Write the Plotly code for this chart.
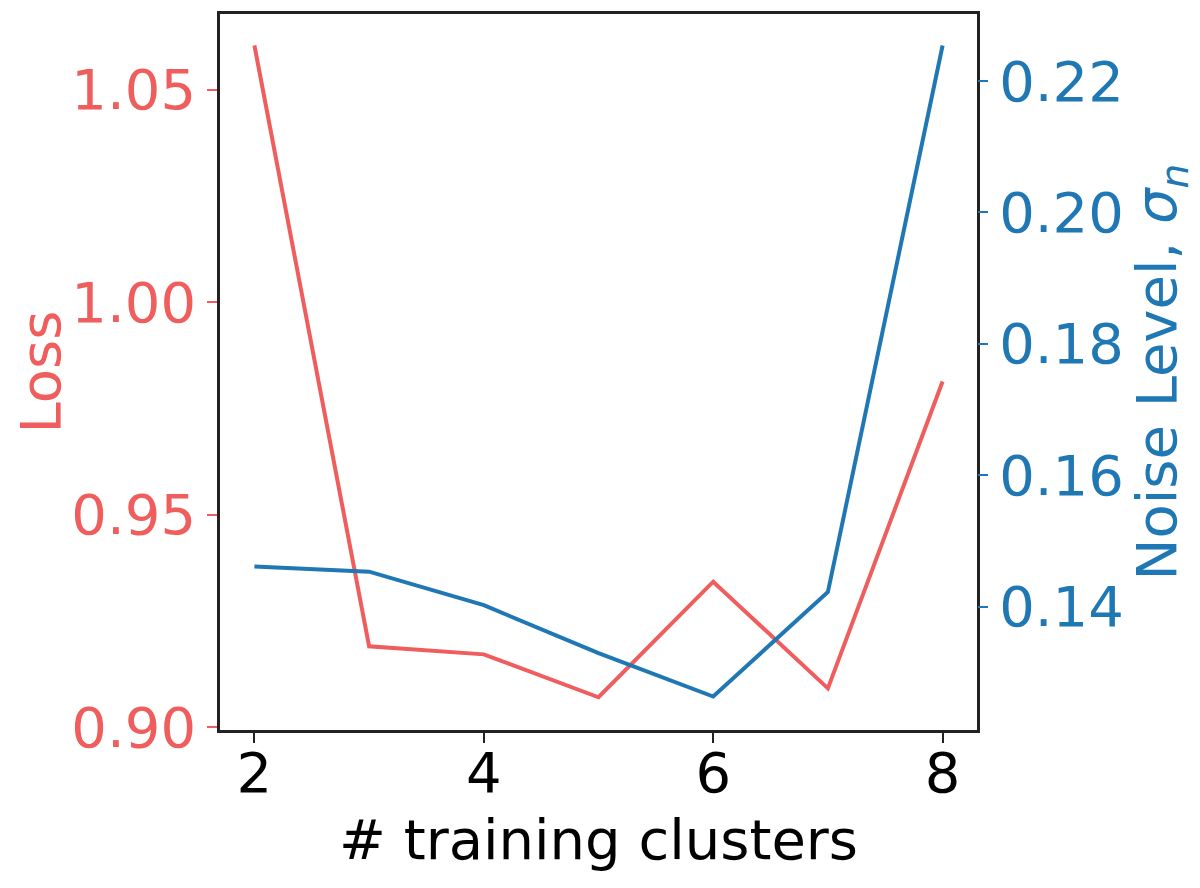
import plotly.graph_objects as go

# values
clusters = [2, 3, 4, 5, 6, 7, 8]
loss = [1.0604, 0.9190, 0.9171, 0.9070, 0.9342, 0.9091, 0.9813]
noise = [0.1461, 0.1453, 0.1402, 0.1329, 0.1263, 0.1422, 0.2254]

x_ticks = [2, 4, 6, 8]
loss_ticks = [0.90, 0.95, 1.00, 1.05]
noise_ticks = [0.14, 0.16, 0.18, 0.20, 0.22]

RED = "#ef5d5d"
BLUE = "#1f77b4"
FONT = "DejaVu Sans"
SIZE = 56

fig = go.Figure()
fig.add_trace(go.Scatter(x=clusters, y=loss, mode="lines",
                         line=dict(color=RED, width=4), yaxis="y"))
fig.add_trace(go.Scatter(x=clusters, y=noise, mode="lines",
                         line=dict(color=BLUE, width=4), yaxis="y2"))

# the page body adds 8px on the left and top, so the margins allow for it
fig.update_layout(
    width=1200, height=888,
    margin=dict(l=212, r=231, t=6, b=166),
    plot_bgcolor="white", paper_bgcolor="white",
    showlegend=False,
    font=dict(family=FONT, size=SIZE, color="black"),
    xaxis=dict(
        range=[1.7, 8.3], tickvals=x_ticks, automargin=False,
        showgrid=False, zeroline=False,
        showline=True, linecolor="#222", linewidth=2.5, mirror=True,
        ticks="outside", ticklen=10, tickwidth=2, tickcolor="#222",
        ticklabelstandoff=-18,
        title=dict(text="# training clusters", font=dict(size=SIZE), standoff=16),
    ),
    yaxis=dict(
        range=[0.8993, 1.0678], tickvals=loss_ticks, tickformat=".2f",
        automargin=False,
        showgrid=False, zeroline=False,
        showline=True, linecolor="#222", linewidth=2.5, mirror=True,
        ticks="outside", ticklen=10, tickwidth=2, tickcolor=RED,
        tickfont=dict(color=RED),
        title=dict(text="Loss", font=dict(color=RED, size=SIZE), standoff=16),
    ),
    yaxis2=dict(
        range=[0.1212, 0.2302], tickvals=noise_ticks, tickformat=".2f",
        overlaying="y", side="right", automargin=False,
        showgrid=False, zeroline=False, showline=False,
        ticks="outside", ticklen=10, tickwidth=2, tickcolor=BLUE,
        tickfont=dict(color=BLUE),
        title=dict(text="Noise Level, <i>σ</i><sub><i>n</i></sub>",
                   font=dict(color=BLUE, size=SIZE), standoff=7),
    ),
)

fig.write_html("out.html")
